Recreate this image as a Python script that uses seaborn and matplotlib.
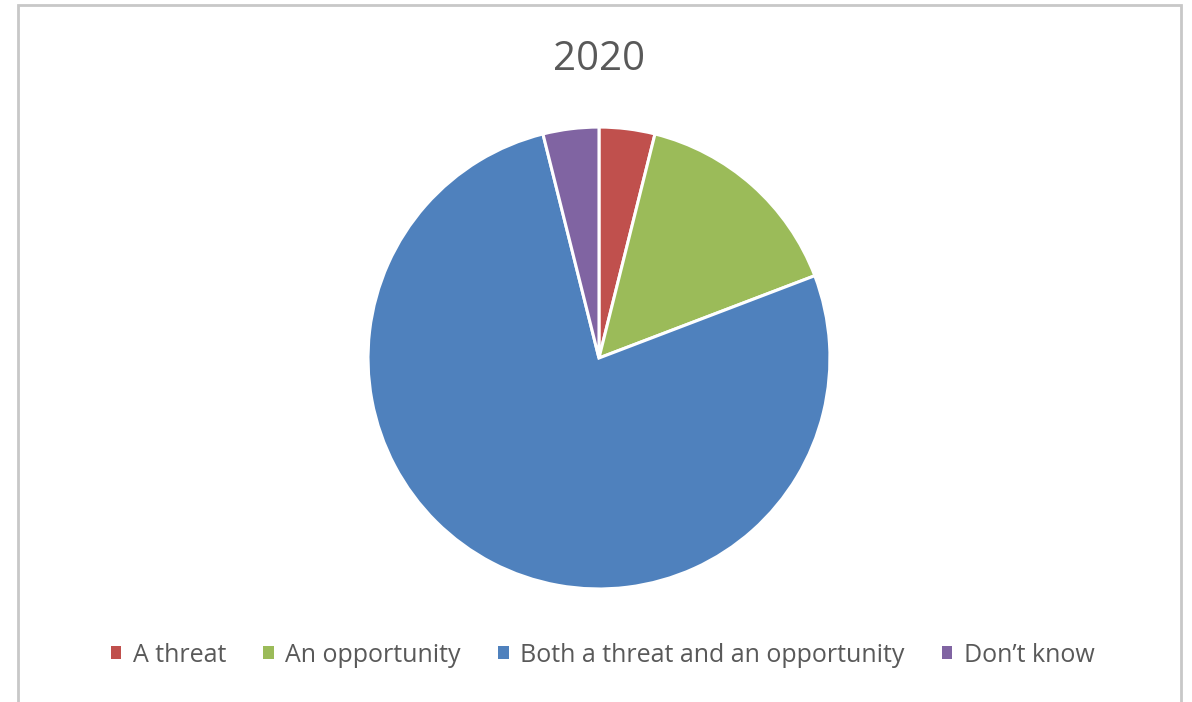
import matplotlib
matplotlib.use("Agg")
import matplotlib.pyplot as plt
import seaborn as sns
from matplotlib.patches import Rectangle, Patch

# data
categories = ["A threat", "An opportunity", "Both a threat and an opportunity", "Don\u2019t know"]
shares = [3.9, 15.3, 76.9, 3.9]
colors = ["#C0504D", "#9BBB59", "#4F81BD", "#8064A2"]
title = "2020"

sns.set_theme(style="white")
plt.rcParams['font.family'] = ['Open Sans', 'DejaVu Sans']

fig = plt.figure(figsize=(11.92, 7.02), dpi=100)
fig.patch.set_facecolor("white")

# grey frame round the chart area (bottom edge runs off the image)
fig.add_artist(Rectangle((18 / 1192, -10 / 702), 1163 / 1192, 707 / 702,
                         transform=fig.transFigure, fill=False,
                         edgecolor="#C8C8C8", linewidth=2.0))

ax = fig.add_axes([0.3087, 0.161, 0.3876, 0.658])
ax.pie(shares, colors=colors, startangle=90, counterclock=False,
       wedgeprops=dict(edgecolor="white", linewidth=2.2))
ax.set_xlim(-1, 1)
ax.set_ylim(-1, 1)
ax.set_aspect("equal")
ax.axis("off")

fig.text(0.5025, 1 - 60 / 702, title, ha="center", va="center",
         fontsize=29, color="#595959")

handles = [Patch(facecolor=c, edgecolor="none") for c in colors]
fig.legend(handles, categories, loc="center", bbox_to_anchor=(0.5055, 1 - 655 / 702),
           ncol=4, frameon=False, fontsize=18, labelcolor="#595959",
           handlelength=0.42, handleheight=0.42, handletextpad=0.45,
           columnspacing=1.5)

fig.savefig("out.png", dpi=100, facecolor="white")
